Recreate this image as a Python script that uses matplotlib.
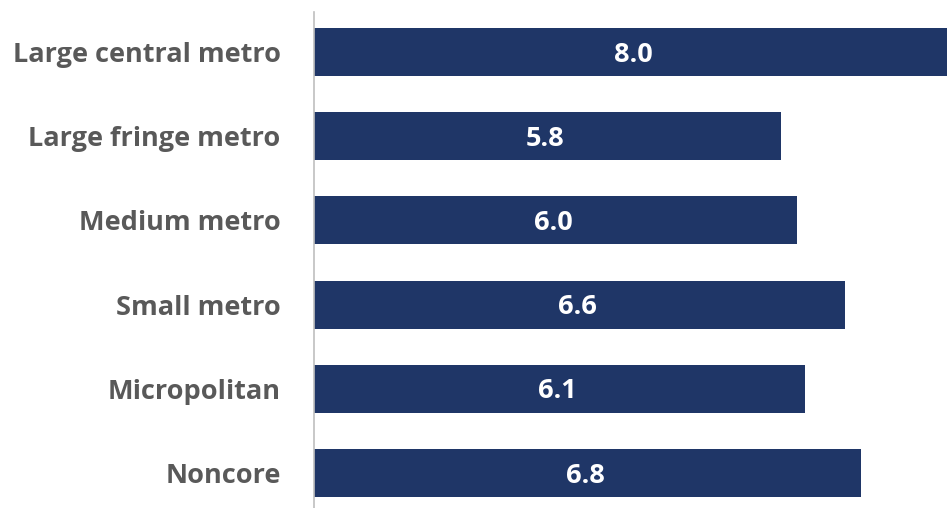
import matplotlib
matplotlib.use("Agg")
from matplotlib import pyplot as plt

categories = ["Large central metro", "Large fringe metro", "Medium metro",
              "Small metro", "Micropolitan", "Noncore"]
values = [8.0, 5.8, 6.0, 6.6, 6.1, 6.8]

plt.rcParams['font.family'] = ['Open Sans', 'DejaVu Sans']

fig = plt.figure(figsize=(9.47, 5.08), dpi=100)
# axes run past the right edge, so the longest bar is cut off like the original
ax = fig.add_axes([314 / 947, 0, 644 / 947, 496 / 508])

bar_color = "#1f3667"
ypos = list(range(len(categories)))
bars = ax.barh(ypos, values, height=0.57, color=bar_color)

for y, v in zip(ypos, values):
    ax.text(v / 2 - 0.03, y + 0.03, f"{v:.1f}", ha="center", va="center",
            color="white", fontsize=19.5, fontweight="bold")

ax.set_xlim(0, 8.0)
ax.set_ylim(5.416, -0.475)
ax.set_yticks(ypos)
ax.set_yticklabels(categories, fontsize=19.5, fontweight="bold", color="#595959")
ax.tick_params(axis="y", length=0, pad=24)
ax.set_xticks([])

for side in ["top", "right", "bottom"]:
    ax.spines[side].set_visible(False)
ax.spines["left"].set_color("#bfbfbf")
ax.spines["left"].set_linewidth(1.2)

fig.savefig("out.png", dpi=100)
